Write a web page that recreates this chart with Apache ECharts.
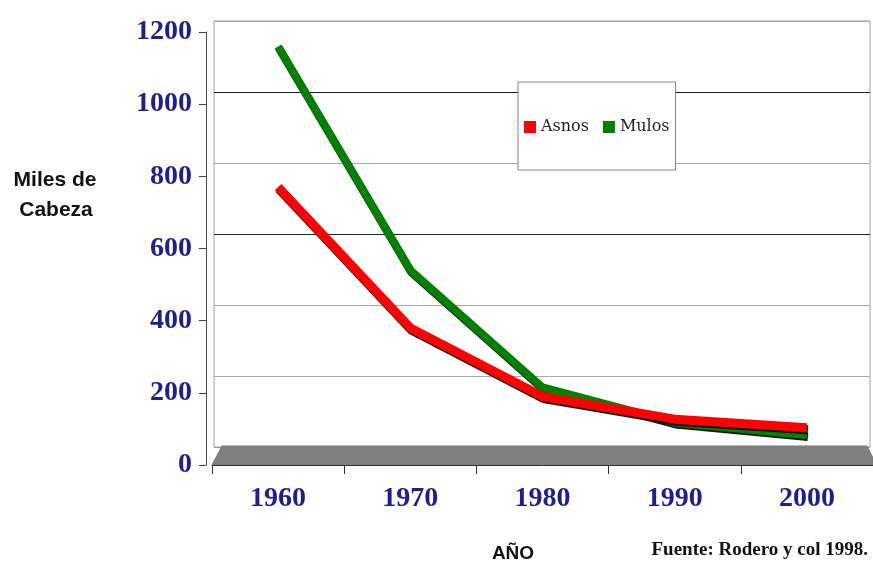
<!DOCTYPE html>
<html>
<head>
<meta charset="utf-8">
<script src="https://cdn.jsdelivr.net/npm/echarts@6/dist/echarts.min.js"></script>
<style>
html,body{margin:0;padding:0;background:#fff;}
#main{width:873px;height:566px;}
</style>
</head>
<body>
<div id="main"></div>
<script>
// datos (miles de cabezas)
var years = ['1960', '1970', '1980', '1990', '2000'];
var asnos = [770, 380, 190, 127, 103];
var mulos = [1160, 540, 215, 118, 83];
var yMax = 1200;
var yStep = 200;

var navy = '#1f1f8f';
// colores de las lineas del fondo (0..1200)
var wallLineColors = ['#999', '#a8a8a8', '#a8a8a8', '#222', '#a8a8a8', '#222', '#a8a8a8'];

var chart = echarts.init(document.getElementById('main'));

var option = {
	animation: false,
	backgroundColor: '#fff',
	grid: [
		// pared del fondo
		{left: 214, right: 3, top: 21, bottom: 119, show: true, borderColor: '#a0a0a0', borderWidth: 1, backgroundColor: '#fff', z: 0},
		// ejes frontales y datos
		{left: 212, right: 0, top: 32, bottom: 101}
	],
	xAxis: [
		{gridIndex: 0, type: 'category', data: years, show: false},
		{
			gridIndex: 1, type: 'category', data: years, boundaryGap: true, z: 5,
			axisLine: {lineStyle: {color: '#333', width: 1}},
			axisTick: {show: true, length: 9, inside: false, lineStyle: {color: '#333'}},
			axisLabel: {color: navy, fontFamily: 'Liberation Serif', fontWeight: 'bold', fontSize: 28, margin: 20}
		}
	],
	yAxis: [
		{
			gridIndex: 0, type: 'value', min: 0, max: yMax, interval: yStep,
			axisLine: {show: false}, axisTick: {show: false}, axisLabel: {show: false},
			splitLine: {show: true, lineStyle: {color: wallLineColors, width: 1}}
		},
		{
			gridIndex: 1, type: 'value', min: 0, max: yMax, interval: yStep, offset: 6, z: 5,
			axisLine: {show: true, lineStyle: {color: '#444'}},
			axisTick: {show: true, length: 7, lineStyle: {color: '#444'}},
			axisLabel: {
				color: navy, fontFamily: 'Liberation Serif', fontWeight: 'bold', fontSize: 28, margin: 14,
				formatter: function(v){ return String(v); }
			},
			splitLine: {show: false}
		}
	],
	legend: {
		data: ['Asnos', 'Mulos'],
		left: 518, top: 82,
		orient: 'horizontal',
		itemWidth: 12, itemHeight: 12, itemGap: 14,
		padding: [37, 6, 35, 6],
		backgroundColor: '#fff',
		borderColor: '#808080', borderWidth: 1, borderRadius: 0,
		icon: 'rect',
		textStyle: {fontFamily: 'DejaVu Serif', fontSize: 16, color: '#222'},
		z: 10
	},
	graphic: [
		// suelo
		{
			type: 'polygon', z: 1, silent: true,
			shape: {points: [[212, 465], [222, 446], [867, 446], [873, 458], [873, 465]]},
			style: {fill: '#808080', stroke: '#777', lineWidth: 1}
		},
		{
			type: 'text', z: 10,
			style: {x: 55, y: 170, text: 'Miles de', font: 'bold 21px "Liberation Sans"', fill: '#111', textAlign: 'center'}
		},
		{
			type: 'text', z: 10,
			style: {x: 56, y: 200, text: 'Cabeza', font: 'bold 21px "Liberation Sans"', fill: '#111', textAlign: 'center'}
		},
		{
			type: 'text', z: 10,
			style: {x: 513, y: 544, text: 'AÑO', font: 'bold 19px "Liberation Sans"', fill: '#111', textAlign: 'center'}
		},
		{
			type: 'text', z: 10,
			style: {x: 868, y: 541, text: 'Fuente: Rodero y col 1998.', font: 'bold 19px "Liberation Serif"', fill: '#111', textAlign: 'right'}
		}
	],
	series: [
		{
			name: 'Mulos', type: 'line', xAxisIndex: 1, yAxisIndex: 1, data: mulos,
			symbol: 'none', color: '#008000', z: 3,
			lineStyle: {width: 8, color: '#008000', shadowColor: 'rgba(0,0,0,0.9)', shadowBlur: 0, shadowOffsetX: 1, shadowOffsetY: 2}
		},
		{
			name: 'Asnos', type: 'line', xAxisIndex: 1, yAxisIndex: 1, data: asnos,
			symbol: 'none', color: '#ff0000', z: 4,
			lineStyle: {width: 9, color: '#ff0000', shadowColor: 'rgba(0,0,0,0.9)', shadowBlur: 0, shadowOffsetX: 1, shadowOffsetY: 2}
		}
	]
};

chart.setOption(option);
</script>
</body>
</html>
